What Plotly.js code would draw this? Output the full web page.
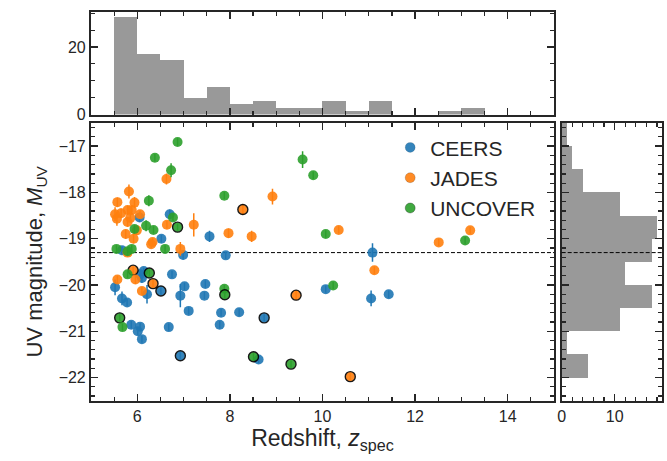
<!DOCTYPE html>
<html><head><meta charset="utf-8">
<script src="https://cdn.plot.ly/plotly-3.0.1.min.js"></script>
<style>html,body{margin:0;padding:0;background:#fff}#chart{width:667px;height:461px}</style>
</head><body><div id="chart"></div>
<script>
// ---- data ----
const surveyNames = ['CEERS', 'JADES', 'UNCOVER'];

const ceersZ   = [6.05, 6.70, 6.52, 6.99, 7.91, 5.67, 7.56, 11.08, 6.06, 6.75, 6.10, 6.14, 6.21, 5.52, 7.02, 7.47, 6.93, 7.45, 6.51, 5.67, 5.78, 7.11, 7.81, 8.20, 7.78, 5.87, 6.06, 6.01, 6.68, 6.10, 6.93, 8.62, 8.74, 10.07, 11.05, 11.43];
const ceersMuv = [-18.54, -18.47, -19.00, -19.35, -19.36, -19.25, -18.95, -19.30, -19.77, -19.77, -19.85, -19.70, -20.20, -20.05, -20.03, -19.98, -20.23, -20.23, -20.13, -20.29, -20.38, -20.56, -20.60, -20.59, -20.86, -20.86, -20.90, -21.00, -20.91, -21.17, -21.53, -21.61, -20.71, -20.09, -20.29, -20.20];
const ceersErr = [0.10, 0.10, 0.08, 0.10, 0.08, 0.08, 0.12, 0.20, 0.08, 0.08, 0.10, 0.08, 0.20, 0.17, 0.08, 0.08, 0.25, 0.08, 0.08, 0.15, 0.08, 0.08, 0.08, 0.08, 0.08, 0.08, 0.08, 0.08, 0.08, 0.08, 0.08, 0.08, 0.08, 0.08, 0.17, 0.08];
const ceersFlag = [0,0,0,0,0,0,0,0,0,0,0,0,0,0,0,0,0,0,1,0,0,0,0,0,0,0,0,0,0,0,1,0,1,0,0,0];

const jadesZ   = [5.82, 5.57, 5.94, 5.52, 5.56, 5.79, 5.88, 6.06, 5.79, 5.99, 5.92, 5.79, 5.91, 5.57, 5.96, 6.34, 6.10, 6.33, 6.30, 6.63, 6.64, 7.22, 6.93, 7.97, 8.28, 8.47, 8.92, 10.35, 11.12, 9.43, 10.60, 12.51, 13.19, 5.85, 5.75, 5.65];
const jadesMuv = [-17.98, -18.21, -18.22, -18.47, -18.57, -18.38, -18.38, -18.47, -18.64, -18.82, -19.00, -19.30, -19.68, -19.88, -19.88, -19.97, -20.13, -19.07, -19.12, -17.71, -18.70, -18.70, -19.22, -18.88, -18.37, -18.95, -18.09, -18.81, -19.68, -20.22, -21.98, -19.08, -18.82, -18.55, -18.90, -18.45];
const jadesErr = [0.15, 0.10, 0.12, 0.15, 0.15, 0.10, 0.10, 0.08, 0.10, 0.10, 0.10, 0.08, 0.08, 0.08, 0.10, 0.08, 0.08, 0.08, 0.08, 0.12, 0.08, 0.25, 0.15, 0.10, 0.12, 0.12, 0.17, 0.08, 0.08, 0.10, 0.08, 0.08, 0.08, 0.10, 0.10, 0.10];
const jadesFlag = [0,0,0,0,0,0,0,0,0,0,0,0,1,0,0,1,0,0,0,0,0,0,0,0,1,0,0,0,0,1,1,0,0,0,0,0];

const uncoverZ   = [6.87, 6.38, 6.73, 7.88, 6.25, 5.94, 6.19, 6.35, 6.77, 6.87, 5.55, 5.79, 6.60, 6.26, 5.79, 7.88, 7.89, 5.62, 5.68, 8.51, 9.32, 9.57, 9.80, 10.07, 10.23, 13.08, 5.88];
const uncoverMuv = [-16.91, -17.25, -17.52, -18.07, -18.18, -18.79, -18.72, -18.81, -18.54, -18.75, -19.22, -19.27, -19.22, -19.74, -19.77, -20.08, -20.21, -20.71, -20.91, -21.55, -21.71, -17.29, -17.63, -18.90, -20.01, -19.04, -19.22];
const uncoverErr = [0.08, 0.08, 0.15, 0.08, 0.12, 0.08, 0.12, 0.08, 0.08, 0.08, 0.08, 0.08, 0.08, 0.08, 0.08, 0.08, 0.08, 0.08, 0.08, 0.08, 0.08, 0.18, 0.08, 0.08, 0.08, 0.08, 0.08];
const uncoverFlag = [0,0,0,0,0,0,0,0,0,1,0,0,0,1,0,0,1,1,0,1,1,0,0,0,0,0,0];

// redshift histogram (bin width 0.5)
const zBinCenters = [5.75, 6.25, 6.75, 7.25, 7.75, 8.25, 8.75, 9.25, 9.75, 10.25, 10.75, 11.25, 11.75, 12.25, 12.75, 13.25];
const zCounts     = [29, 18, 16, 5, 8, 3, 4, 2, 2, 4, 1, 4, 0, 0, 1, 2];
// M_UV histogram (bin width 0.5)
const muvBinCenters = [-22.25, -21.75, -21.25, -20.75, -20.25, -19.75, -19.25, -18.75, -18.25, -17.75, -17.25, -16.75];
const muvCounts     = [0, 5, 1, 11, 17, 12, 17, 18, 11, 4, 2, 1];

const muvCut = -19.3;

// ---- styling ----
const colors = ['#1f77b4', '#ff7f0e', '#2ca02c'];
const ink = '#262626';
const font = 'Liberation Sans, Arial, sans-serif';

const series = [
  [ceersZ, ceersMuv, ceersErr, ceersFlag],
  [jadesZ, jadesMuv, jadesErr, jadesFlag],
  [uncoverZ, uncoverMuv, uncoverErr, uncoverFlag]
];

const traces = series.map((s, i) => ({
  type: 'scatter', mode: 'markers', name: surveyNames[i], legendgroup: surveyNames[i],
  x: s[0], y: s[1],
  error_y: {type: 'data', array: s[2], visible: true, color: colors[i], thickness: 1.5, width: 0},
  marker: {color: colors[i], size: 10, opacity: 0.9,
           line: {color: '#000', width: s[3].map(f => f ? 1.4 : 0)}},
  xaxis: 'x', yaxis: 'y'
}));

traces.push({
  type: 'bar', x: zBinCenters, y: zCounts, width: 0.5,
  marker: {color: '#999999', line: {width: 0}},
  xaxis: 'x2', yaxis: 'y2', showlegend: false, hoverinfo: 'skip'
});
traces.push({
  type: 'bar', orientation: 'h', y: muvBinCenters, x: muvCounts, width: 0.5,
  marker: {color: '#999999', line: {width: 0}},
  xaxis: 'x3', yaxis: 'y3', showlegend: false, hoverinfo: 'skip'
});

function ax(extra) {
  return Object.assign({
    showline: true, linewidth: 2, linecolor: ink, mirror: 'ticks',
    ticks: 'inside', ticklen: 7, tickwidth: 1.5, tickcolor: ink,
    showgrid: false, zeroline: false,
    tickfont: {family: font, size: 16, color: ink}
  }, extra);
}
function minor(d) {
  return {ticks: 'inside', ticklen: 4, tickwidth: 1.2, tickcolor: ink, dtick: d, showgrid: false};
}

const xMainDomain = [0.1364, 0.8306];
const yMainDomain = [0.1308, 0.7332];

const layout = {
  width: 667, height: 461,
  margin: {l: 0, r: 0, t: 0, b: 0},
  paper_bgcolor: '#fff', plot_bgcolor: '#fff',
  bargap: 0,
  font: {family: font, color: ink},
  xaxis: ax({domain: xMainDomain, range: [5, 15], anchor: 'y', tick0: 0, dtick: 2, minor: minor(0.5),
    title: {text: 'Redshift, <i>z</i><sub>spec</sub>', font: {family: font, size: 23, color: ink}, standoff: 5}}),
  yaxis: ax({domain: yMainDomain, range: [-22.5, -16.5], anchor: 'x', tick0: 0, dtick: 1, minor: minor(0.2),
    title: {text: 'UV magnitude, <i>M</i><sub>UV</sub>', font: {family: font, size: 22, color: ink}, standoff: 10}}),
  xaxis2: ax({domain: xMainDomain, matches: 'x', range: [5, 15], anchor: 'y2', tick0: 0, dtick: 2, minor: minor(0.5), showticklabels: false}),
  yaxis2: ax({domain: [0.7516, 0.9746], range: [0, 30.45], anchor: 'x2', tick0: 0, dtick: 20, minor: minor(5)}),
  xaxis3: ax({domain: [0.8421, 0.9921], range: [0, 18.9], anchor: 'y3', tick0: 0, dtick: 10, minor: minor(2)}),
  yaxis3: ax({domain: yMainDomain, matches: 'y', range: [-22.5, -16.5], anchor: 'x3', tick0: 0, dtick: 1, minor: minor(0.2), showticklabels: false}),
  legend: {x: 0.585, y: 0.724, xanchor: 'left', yanchor: 'top', bgcolor: 'rgba(0,0,0,0)',
           traceorder: 'grouped', tracegroupgap: 0,
           font: {family: font, size: 21, color: ink}, itemwidth: 30},
  shapes: [
    {type: 'line', xref: 'x domain', x0: 0, x1: 1, yref: 'y', y0: muvCut, y1: muvCut,
     line: {color: '#000', width: 1, dash: '4px,2px'}, layer: 'below'},
    {type: 'line', xref: 'x3 domain', x0: 0, x1: 1, yref: 'y3', y0: muvCut, y1: muvCut,
     line: {color: '#000', width: 1, dash: '4px,2px'}, layer: 'above'}
  ]
};

Plotly.newPlot('chart', traces, layout, {staticPlot: true, displayModeBar: false});
</script>
</body></html>
